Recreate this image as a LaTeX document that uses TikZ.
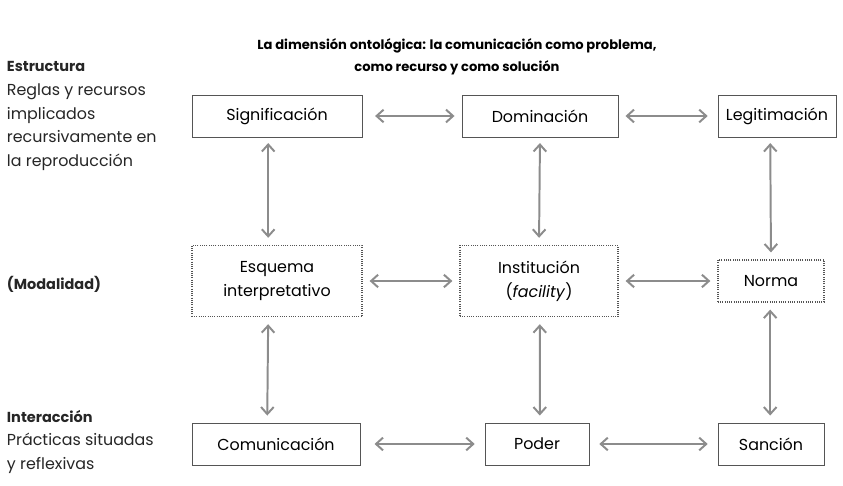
\documentclass[tikz,border=0pt]{standalone}
\usepackage{fontspec}
\setmainfont{Poppins}
\usetikzlibrary{arrows.meta}
\definecolor{arrowgray}{HTML}{8C8C8C}
\definecolor{boxgray}{HTML}{555555}
\begin{document}
\begin{tikzpicture}[
        x=0.025cm, y=-0.025cm,
        every node/.style={font=\fontsize{11.3}{17}\selectfont},
        concept/.style={draw=boxgray, line width=0.6pt, minimum height=1.05cm, align=center, inner sep=2pt},
        modal/.style={concept, densely dotted, line width=0.8pt},
        side/.style={anchor=west, align=left, text=black!85},
        link/.style={{Straight Barb[length=5pt,width=9pt]}-{Straight Barb[length=5pt,width=9pt]}, arrowgray, line width=1.4pt}
    ]
        \useasboundingbox (0,0) rectangle (843,486);

        % Titel
        \node[font=\fontsize{9.3}{15.6}\selectfont\bfseries, align=center] (title) at (457,57)
            {La dimensión ontológica: la comunicación como problema,\\como recurso y como solución};

        % Struktur
        \node[concept, minimum width=4.25cm] (sig) at (277,116) {Significación};
        \node[concept, minimum width=3.9cm] (dom) at (540,116) {Dominación};
        \node[concept, minimum width=2.95cm] (leg) at (777,116) {Legitimación};

        % Modalität
        \node[modal, minimum width=4.25cm, minimum height=1.78cm] (esq) at (277,281) {Esquema\\interpretativo};
        \node[modal, minimum width=3.95cm, minimum height=1.78cm] (ins) at (539,281) {Institución\\(\textit{facility})};
        \node[modal, minimum width=2.65cm] (nor) at (771,281) {Norma};

        % Interaktion
        \node[concept, minimum width=4.2cm] (com) at (276,444) {Comunicación};
        \node[concept, minimum width=2.6cm] (pod) at (537,444) {Poder};
        \node[concept, minimum width=2.65cm] (san) at (771,444) {Sanción};

        % Labels links
        \node[side] (estr) at (2,116) {{\fontsize{10.3}{17}\selectfont\bfseries Estructura}\\Reglas y recursos\\implicados\\recursivamente en\\la reproducción};
        \node[side, font=\fontsize{10.3}{17}\selectfont\bfseries] (moda) at (2,284) {(Modalidad)};
        \node[side] (inte) at (2,442) {{\fontsize{10.3}{17}\selectfont\bfseries Interacción}\\Prácticas situadas\\y reflexivas};

        % Verbindungen horizontal
        \draw[link, shorten <=9pt, shorten >=5pt] (sig) -- (dom);
        \draw[link, shorten <=5pt, shorten >=7pt] (dom) -- (leg);
        \draw[link, shorten <=5pt, shorten >=5pt] (esq) -- (ins);
        \draw[link, shorten <=5pt, shorten >=5pt] (ins) -- (nor);
        \draw[link, shorten <=10pt, shorten >=7pt] (com) -- (pod);
        \draw[link, shorten <=7pt, shorten >=7pt] (pod) -- (san);

        % Verbindungen vertikal
        \draw[link, shorten <=4pt, shorten >=5pt] ([xshift=-0.22cm]sig.south) -- ([xshift=-0.22cm]esq.north);
        \draw[link, shorten <=4pt, shorten >=5pt] (dom.south) -- (ins.north);
        \draw[link, shorten <=4pt, shorten >=5pt] ([xshift=-0.17cm]leg.south) -- (nor.north);
        \draw[link, shorten <=5pt, shorten >=5pt] ([xshift=-0.22cm]esq.south) -- ([xshift=-0.22cm]com.north);
        \draw[link, shorten <=5pt, shorten >=5pt] ([xshift=0.02cm]ins.south) -- ([xshift=0.07cm]pod.north);
        \draw[link, shorten <=5pt, shorten >=5pt] ([xshift=-0.02cm]nor.south) -- ([xshift=-0.02cm]san.north);

    \end{tikzpicture}
\end{document}
